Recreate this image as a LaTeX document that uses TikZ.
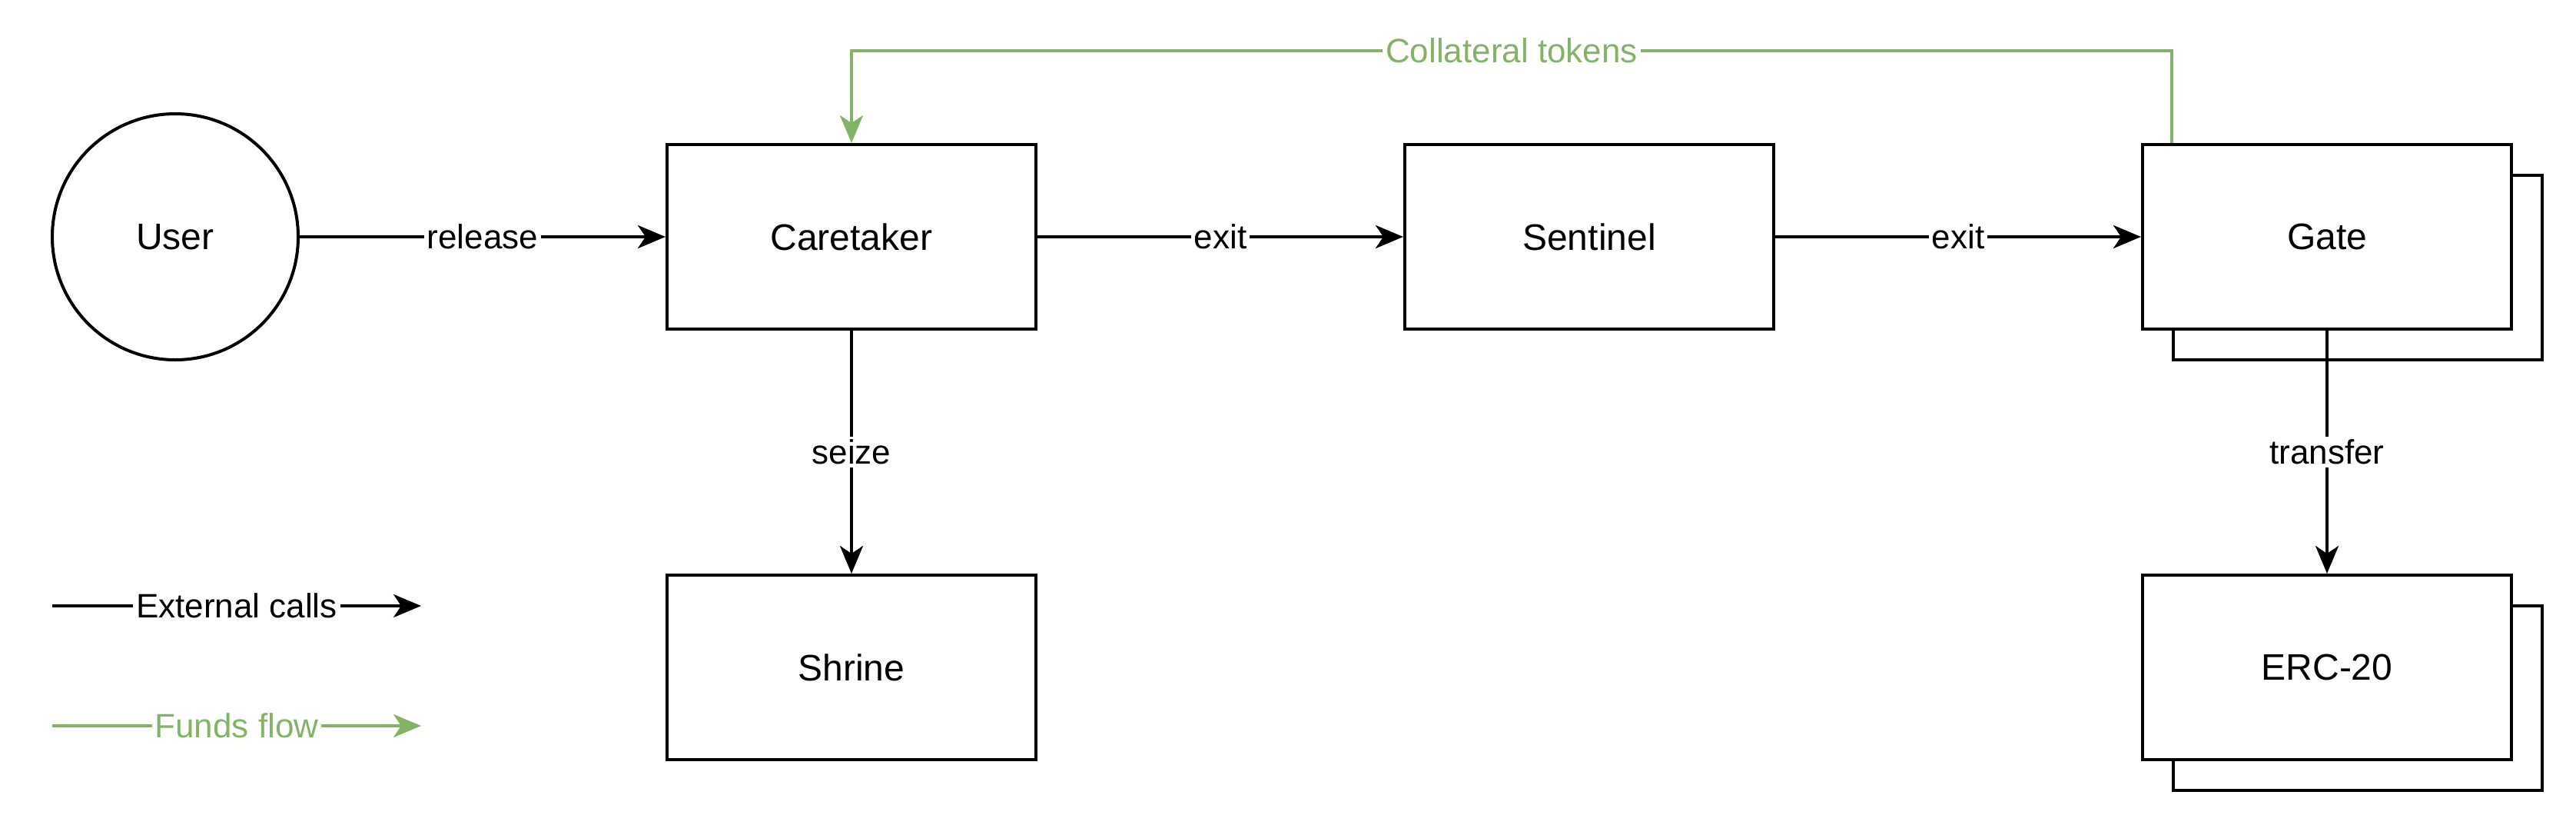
\documentclass[tikz,border=0pt]{standalone}
\usepackage{fontspec}
\setmainfont{Liberation Sans}
\usepackage{tikz}
\usetikzlibrary{arrows,arrows.meta,shapes,positioning}
\usetikzlibrary{shadows}
\definecolor{fundsgreen}{HTML}{82B366}
\tikzstyle{contract} = [rectangle, draw, fill=white, 
    minimum width=120pt, minimum height=60pt, font=\fontsize{12}{14}\selectfont, node distance=240pt]
\tikzstyle{multi}    = [contract, copy shadow={shadow xshift=10pt, shadow yshift=-10pt}]
\tikzstyle{actor}    = [circle, draw, fill=white, minimum size=80pt, inner sep=0pt, font=\fontsize{12}{14}\selectfont]
\tikzstyle{line}     = [draw, -{Stealth[length=9pt,width=7.5pt,inset=2.5pt]}]
\tikzstyle{funds}    = [line, draw=fundsgreen]
\tikzstyle{lbl}      = [fill=white, inner sep=1pt, font=\fontsize{11}{13}\selectfont]

\begin{document}
\begin{tikzpicture}[x=1pt,y=1pt,line width=1pt]
    \useasboundingbox (0,0) rectangle (838,-268);
    % Place nodes
    \node [actor]    (user)      at (57,-77)  {User};
    \node [contract] (caretaker) at (277,-77) {Caretaker};
    \node [contract, right of=caretaker] (sentinel) {Sentinel};
    \node [multi, right of=sentinel]     (gate)     {Gate};
    \node [contract, below of=caretaker, node distance=140pt] (shrine) {Shrine};
    \node [multi, below of=gate, node distance=140pt]         (erc)    {ERC-20};

    % legend
    \coordinate (callsStart) at (17,-197);  \coordinate (callsEnd) at (137,-197);
    \coordinate (fundsStart) at (17,-236);  \coordinate (fundsEnd) at (137,-236);

    \path [line] (user)      -- node [lbl] {release}  (caretaker);
    \path [line] (caretaker) -- node [lbl] {exit}     (sentinel);
    \path [line] (sentinel)  -- node [lbl] {exit}     (gate);
    \path [line] (caretaker) -- node [lbl] {seize}    (shrine);
    \path [line] (gate)      -- node [lbl] {transfer} (erc);

    \path [funds] ([xshift=10pt]gate.north west) -- ++(0,30) -| node [lbl, text=fundsgreen, pos=0.25] {Collateral tokens} (caretaker.north);

    \path [line]  (callsStart) -- node [lbl] {External calls} (callsEnd);
    \path [funds] (fundsStart) -- node [lbl, text=fundsgreen] {Funds flow} (fundsEnd);
\end{tikzpicture}
\end{document}
